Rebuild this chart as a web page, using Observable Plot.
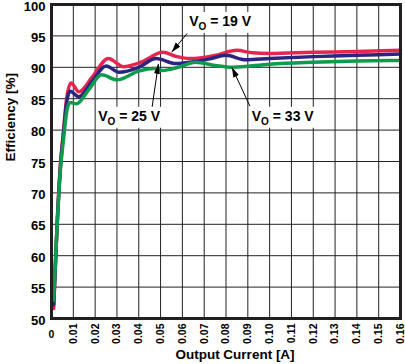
<!DOCTYPE html>
<html>
<head>
<meta charset="utf-8">
<script src="https://cdn.jsdelivr.net/npm/d3@7"></script>
<script src="https://cdn.jsdelivr.net/npm/@observablehq/plot@0.6"></script>
<style>
  html, body { margin: 0; padding: 0; background: #fff; }
</style>
</head>
<body>
<script>
// ---- data ----
const xTicks = [0, 0.01, 0.02, 0.03, 0.04, 0.05, 0.06, 0.07, 0.08, 0.09, 0.10, 0.11, 0.12, 0.13, 0.14, 0.15, 0.16];
const yTicks = [50, 55, 60, 65, 70, 75, 80, 85, 90, 95, 100];

const seriesNames = ["VO = 19 V", "VO = 25 V", "VO = 33 V"];
const seriesColors = ["#e6254f", "#2c2480", "#0d9b4d"];

const current19 = [0.001, 0.0025, 0.004, 0.0055, 0.007, 0.009, 0.0125, 0.019, 0.026, 0.033, 0.041, 0.051, 0.0575, 0.064, 0.075, 0.085, 0.092, 0.10, 0.12, 0.14, 0.16];
const eff19     = [51.6, 64.5, 74.0, 79.8, 85.2, 87.5, 86.1, 88.6, 91.4, 90.1, 90.8, 92.4, 91.7, 91.4, 91.9, 92.7, 92.3, 92.2, 92.4, 92.5, 92.7];

const current25 = [0.001, 0.0025, 0.004, 0.0055, 0.007, 0.0085, 0.0125, 0.0185, 0.025, 0.031, 0.040, 0.048, 0.057, 0.065, 0.072, 0.080, 0.089, 0.10, 0.12, 0.14, 0.16];
const eff25     = [52.2, 64.3, 73.8, 79.5, 84.5, 86.2, 85.3, 87.7, 90.2, 89.2, 90.0, 91.4, 90.6, 90.9, 91.3, 91.9, 91.2, 91.4, 91.7, 91.9, 92.1];

const current33 = [0.001, 0.0025, 0.004, 0.0055, 0.007, 0.0085, 0.0115, 0.017, 0.023, 0.030, 0.040, 0.047, 0.051, 0.058, 0.066, 0.075, 0.083, 0.10, 0.12, 0.14, 0.16];
const eff33     = [52.9, 64.2, 73.3, 78.5, 83.0, 84.4, 84.2, 86.4, 88.8, 88.0, 89.4, 89.8, 89.5, 90.0, 90.8, 90.3, 90.0, 90.5, 90.8, 91.0, 91.1];

// annotations (data coordinates)
const labelX = [0.0773, 0.0356, 0.106];
const labelY = [97.3, 82.2, 82.2];
const arrowFromX = [0.0622, 0.0461, 0.091];
const arrowFromY = [95.4, 83.6, 83.8];
const arrowToX = [0.0551, 0.0490, 0.0827];
const arrowToY = [92.4, 90.55, 90.0];

// ---- build tables ----
const currents = [current19, current25, current33];
const effs = [eff19, eff25, eff33];
const data = [];
seriesNames.forEach((name, i) => {
  currents[i].forEach((c, j) => data.push({series: name, current: c, eff: effs[i][j]}));
});
const labels = seriesNames.map((t, i) => ({text: t, x: labelX[i], y: labelY[i]}));
const arrows = seriesNames.map((t, i) => ({x1: arrowFromX[i], y1: arrowFromY[i], x2: arrowToX[i], y2: arrowToY[i]}));

const font = "'Liberation Sans', Arial, Helvetica, sans-serif";

const chart = Plot.plot({
  width: 405,
  height: 364,
  marginLeft: 51,
  marginRight: 5,
  marginTop: 4,
  marginBottom: 46,
  style: {fontFamily: font, background: "#fff", color: "#000"},
  x: {domain: [0, 0.16]},
  y: {domain: [50, 100]},
  color: {domain: seriesNames, range: seriesColors},
  marks: [
    Plot.gridX({ticks: xTicks, stroke: "#222", strokeOpacity: 1, strokeWidth: 1}),
    Plot.gridY({ticks: yTicks, stroke: "#222", strokeOpacity: 1, strokeWidth: 1}),
    Plot.axisY({ticks: yTicks, tickSize: 0, tickPadding: 6, dy: 2, fontSize: 13, fontWeight: "bold", label: null}),
    Plot.axisX({ticks: xTicks.slice(1), tickFormat: d3.format(".2f"), tickRotate: -90, tickSize: 0, tickPadding: 5, fontSize: 10.5, fontWeight: "bold", label: null}),
    Plot.axisX({ticks: [0], tickFormat: () => "0", tickSize: 0, tickPadding: 12, fontSize: 10.5, fontWeight: "bold", label: null}),
    Plot.line(data, {x: "current", y: "eff", z: "series", stroke: "series", strokeWidth: 3.5, curve: "monotone-x", strokeLinejoin: "round", strokeLinecap: "round"}),
    Plot.frame({stroke: "#231f20", strokeWidth: 3}),
    Plot.link(arrows, {x1: "x1", y1: "y1", x2: "x2", y2: "y2", stroke: "#000", strokeWidth: 1, ariaLabel: "pointer"}),
    Plot.text(labels, {x: "x", y: "y", text: "text", fontSize: 14, fontWeight: "bold", fill: "#000", ariaLabel: "annotation"}),
    Plot.text(["Efficiency [%]"], {text: d => d, frameAnchor: "left", rotate: -90, dx: -41, fontSize: 13.5, fontWeight: "bold", fill: "#000"}),
    Plot.text(["Output Current [A]"], {text: d => d, frameAnchor: "bottom", dy: 40, dx: 9, fontSize: 13.5, fontWeight: "bold", fill: "#000"})
  ]
});

document.body.append(chart);

// ---- post-processing: subscripts, label backgrounds, filled arrowheads ----
const svg = d3.select(chart);
const defs = svg.insert("defs", ":first-child");
defs.append("marker")
  .attr("id", "ahead")
  .attr("viewBox", "0 0 10 10")
  .attr("refX", 10).attr("refY", 5)
  .attr("markerWidth", 10).attr("markerHeight", 10)
  .attr("markerUnits", "userSpaceOnUse")
  .attr("orient", "auto")
  .append("path").attr("d", "M0,2L10,5L0,8Z").attr("fill", "#000");

let linkEls = svg.selectAll('path[aria-label="pointer"], line[aria-label="pointer"]');
if (linkEls.empty()) linkEls = svg.selectAll('g[aria-label="link"] path, g[aria-label="pointer"] path');
linkEls.attr("marker-end", "url(#ahead)");

let textEls = svg.selectAll('text[aria-label="annotation"]');
if (textEls.empty()) textEls = svg.selectAll('text').filter(function() { return /^VO = /.test(this.textContent); });
textEls.each(function() {
  const t = this.textContent;
  const m = t.match(/^V(O)(.*)$/);
  if (!m) return;
  const sel = d3.select(this);
  sel.text(null);
  sel.append("tspan").text("V");
  sel.append("tspan").attr("font-size", 10).attr("dy", 4).text(m[1]);
  sel.append("tspan").attr("dy", -4).text(m[2]);
  const bb = this.getBBox();
  const pad = 2;
  const rect = document.createElementNS("http://www.w3.org/2000/svg", "rect");
  rect.setAttribute("x", bb.x - pad);
  rect.setAttribute("y", bb.y - pad + 1);
  rect.setAttribute("width", bb.width + 2 * pad);
  rect.setAttribute("height", bb.height + 2 * pad - 2);
  rect.setAttribute("fill", "#fff");
  if (this.getAttribute("transform")) rect.setAttribute("transform", this.getAttribute("transform"));
  this.parentNode.insertBefore(rect, this);
});
</script>
</body>
</html>
